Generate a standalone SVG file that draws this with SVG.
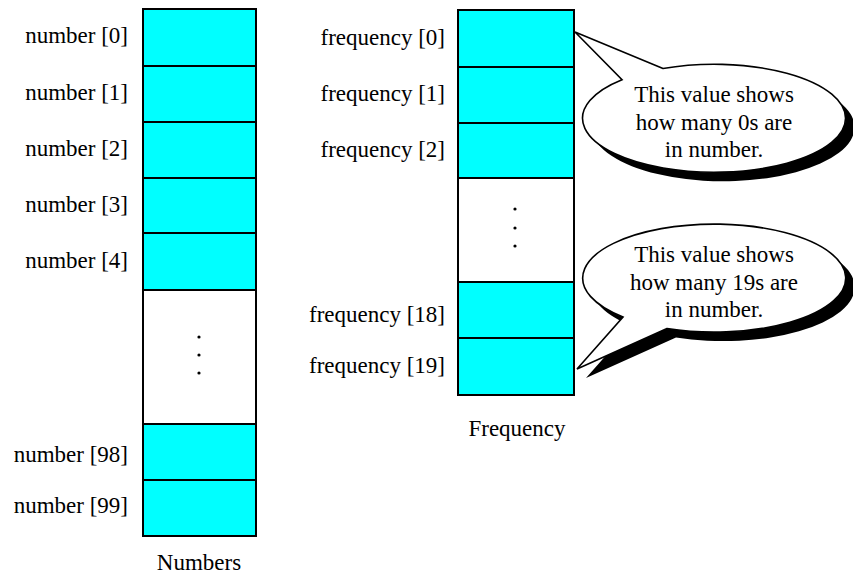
<svg xmlns="http://www.w3.org/2000/svg" width="853" height="576" viewBox="0 0 853 576">
<style>
.cell{fill:#00ffff;stroke:#000;stroke-width:2}
.gap{fill:#fff;stroke:#000;stroke-width:2}
.lbl{font-family:"Liberation Serif","Times New Roman",serif;font-size:23px;fill:#000}
.end{text-anchor:end}
.mid{text-anchor:middle}
.dot{fill:#000}
.bub{fill:#fff;stroke:#000;stroke-width:1.6;stroke-linejoin:miter}
.shadow{fill:#000}
</style>
<rect width="853" height="576" fill="#fff"/>
<g id="numbers">
<rect class="cell" x="143" y="9" width="113" height="57"/>
<rect class="cell" x="143" y="66" width="113" height="56"/>
<rect class="cell" x="143" y="122" width="113" height="56"/>
<rect class="cell" x="143" y="178" width="113" height="55"/>
<rect class="cell" x="143" y="233" width="113" height="57"/>
<rect class="gap" x="143" y="290" width="113" height="134"/>
<rect class="cell" x="143" y="424" width="113" height="56"/>
<rect class="cell" x="143" y="480" width="113" height="56"/>
<circle class="dot" cx="199" cy="337" r="1.6"/>
<circle class="dot" cx="199" cy="355" r="1.6"/>
<circle class="dot" cx="199" cy="373" r="1.6"/>
<text class="lbl end" x="128" y="43">number [0]</text>
<text class="lbl end" x="128" y="100">number [1]</text>
<text class="lbl end" x="128" y="156">number [2]</text>
<text class="lbl end" x="128" y="212">number [3]</text>
<text class="lbl end" x="128" y="268">number [4]</text>
<text class="lbl end" x="128" y="462">number [98]</text>
<text class="lbl end" x="128" y="513">number [99]</text>
<text class="lbl mid" x="199" y="570">Numbers</text>
</g>
<g id="frequency">
<rect class="cell" x="458" y="10" width="116" height="57"/>
<rect class="cell" x="458" y="67" width="116" height="56"/>
<rect class="cell" x="458" y="123" width="116" height="55"/>
<rect class="gap" x="458" y="178" width="116" height="104"/>
<rect class="cell" x="458" y="282" width="116" height="56"/>
<rect class="cell" x="458" y="338" width="116" height="57"/>
<circle class="dot" cx="515" cy="209" r="1.6"/>
<circle class="dot" cx="515" cy="228" r="1.6"/>
<circle class="dot" cx="515" cy="246" r="1.6"/>
<text class="lbl end" x="445" y="45">frequency [0]</text>
<text class="lbl end" x="445" y="101">frequency [1]</text>
<text class="lbl end" x="445" y="157">frequency [2]</text>
<text class="lbl end" x="445" y="322">frequency [18]</text>
<text class="lbl end" x="445" y="373">frequency [19]</text>
<text class="lbl mid" x="517" y="436">Frequency</text>
</g>
<g id="callout0">
<path class="shadow" transform="translate(9,9)" d="M663,68.5 L575,32 L622,79.7 A131.5 54 0 1 0 663,68.5 Z"/>
<path class="bub" d="M663,68.5 L575,32 L622,79.7 A131.5 54 0 1 0 663,68.5 Z"/>
<text class="lbl mid" x="714" y="102">This value shows</text>
<text class="lbl mid" x="714" y="130">how many 0s are</text>
<text class="lbl mid" x="714" y="157">in number.</text>
</g>
<g id="callout19">
<path class="shadow" transform="translate(9,9)" d="M667,328.5 L577,369 L623,317 A131.5 54 0 1 1 667,328.5 Z"/>
<path class="bub" d="M667,328.5 L577,369 L623,317 A131.5 54 0 1 1 667,328.5 Z"/>
<text class="lbl mid" x="714" y="262">This value shows</text>
<text class="lbl mid" x="714" y="290">how many 19s are</text>
<text class="lbl mid" x="714" y="317">in number.</text>
</g>
<g id="connectors"/>
</svg>
